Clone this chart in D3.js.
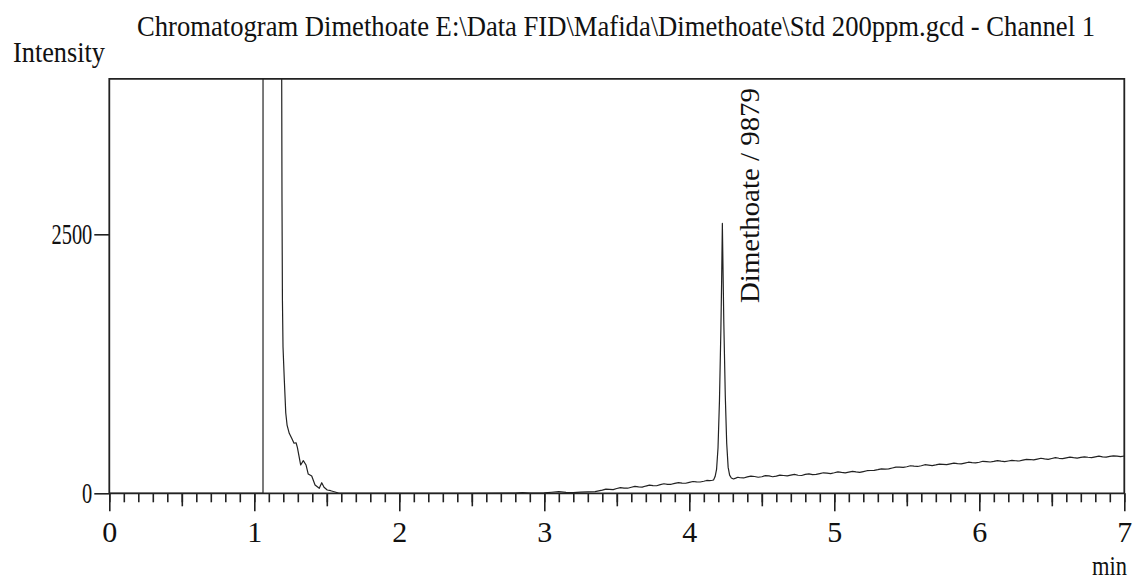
<!DOCTYPE html>
<html><head><meta charset="utf-8">
<script src="https://cdn.jsdelivr.net/npm/d3@7"></script>
<style>
body{margin:0;background:#fff}
text{font-family:"Liberation Serif","Times New Roman",serif;fill:#111}
</style>
</head><body>
<svg id="c" width="1135" height="582"></svg>
<script>
// ---------- data ----------
// solvent front (off-scale) and its tail
const solventTimes = [0.00,1.000,1.055,1.060,1.062,1.185,1.189,1.191,1.194,1.198,1.207,1.217,1.226,1.241,1.258,1.274,1.288,1.297,1.320,1.338,1.357,1.372,1.396,1.419,1.448,1.465,1.481,1.503,1.527,1.557,1.580,1.600];
const solventValues = [0,0,0,0,40000,40000,4000,2831,1866,1413,1094,775,659,579,531,483,488,444,273,315,273,186,167,80,48,102,58,32,25,13,3,0];
// baseline drift
const baseTimes = [1.70,2.00,2.50,2.80,2.85,2.90,3.00,3.05,3.10,3.15,3.20,3.25,3.30,3.35,
  3.40,3.45,3.50,3.55,3.60,3.65,3.70,3.75,3.80,3.85,3.90,3.95,4.00,4.05,4.10,4.14,4.16,4.168,
  4.29,4.32,4.35,4.40,4.45,4.50,4.55,4.60,4.65,4.70,4.75,4.80,4.85,4.90,4.95,5.00,5.05,5.10,5.15,5.20,5.25,5.30,5.35,5.40,5.45,5.50,5.55,5.60,5.65,5.70,5.75,5.80,5.85,5.90,5.95,6.00,6.05,6.10,6.15,6.20,6.25,6.30,6.35,6.40,6.45,6.50,6.55,6.60,6.65,6.70,6.75,6.80,6.85,6.90,6.95,7.00];
const baseValues = [0,0,0,2,6,3,4,10,16,8,6,12,14,16,
  30,38,46,50,58,62,70,74,84,86,96,98,106,110,116,122,126,130,
  148,146,150,158,162,160,168,166,172,176,174,182,180,190,194,198,202,205,206,210,220,228,234,244,252,256,262,266,272,274,280,284,286,292,296,300,306,308,310,312,314,320,326,330,332,336,338,342,344,346,348,352,352,356,358,360];
// detector noise points read between the drift points
const noiseTimes = [3.425,3.475,3.525,3.575,3.625,3.675,3.725,3.775,3.825,3.875,3.925,3.975,4.025,4.075,4.12,
  4.305,4.335,4.375,4.425,4.475,4.525,4.575,4.625,4.675,4.725,4.775,4.825,4.875,4.925,4.975,5.025,5.075,5.125,5.175,5.225,5.275,5.325,5.375,5.425,5.475,5.525,5.575,5.625,5.675,5.725,5.775,5.825,5.875,5.925,5.975,6.025,6.075,6.125,6.175,6.225,6.275,6.325,6.375,6.425,6.475,6.525,6.575,6.625,6.675,6.725,6.775,6.825,6.875,6.925,6.975];
const noiseValues = [40,36,55,49,67,60,79,73,92,87,103,97,114,109,124,
  138,155,148,166,155,170,160,175,168,182,172,188,182,198,190,207,198,212,202,218,222,236,235,252,250,266,259,276,268,282,276,292,284,300,293,309,302,316,306,318,312,328,322,338,328,344,335,349,340,352,345,358,349,362,354];
// Dimethoate peak
const peakTimes = [4.178,4.188,4.198,4.208,4.218,4.223,4.228,4.233,4.238,4.248,4.258,4.268,4.278];
const peakValues = [162,230,438,892,1595,2050,2605,2120,1650,950,480,250,175];

const xTickValues = [0,1,2,3,4,5,6,7];
const yTickValues = [0,2500];
const titleText = "Chromatogram Dimethoate E:\\Data FID\\Mafida\\Dimethoate\\Std 200ppm.gcd - Channel 1";
const yLabel = "Intensity";
const xLabel = "min";
const peakLabel = "Dimethoate / 9879";
const peakTime = 4.228;

// ---------- build trace ----------
const zip = (a,b)=>a.map((t,i)=>[t,b[i]]);
const pts = [].concat(zip(solventTimes,solventValues), zip(baseTimes,baseValues),
                      zip(noiseTimes,noiseValues), zip(peakTimes,peakValues))
  .sort((p,q)=>p[0]-q[0]);

// ---------- layout ----------
const svg = d3.select("#c");
const x = d3.scaleLinear().domain([0,7]).range([109.3,1124.3]);
const y = d3.scaleLinear().domain([0,2500]).range([493.3,234.3]);
const yTop = y(4000);

svg.append("defs").append("clipPath").attr("id","clip")
  .append("rect").attr("x",x(0)).attr("y",yTop).attr("width",x(7)-x(0)).attr("height",y(0)-yTop);

svg.append("path").datum(pts)
  .attr("clip-path","url(#clip)")
  .attr("fill","none").attr("stroke","#222").attr("stroke-width",1.2)
  .attr("stroke-linejoin","round")
  .attr("d", d3.line().x(d=>x(d[0])).y(d=>y(d[1])));

// x axis: minor, mid, major ticks
const minor = d3.range(0,71).map(i=>i/10);
const mid = d3.range(0,7).map(i=>i+0.5);
function styleAxis(g){ g.select(".domain").remove(); g.selectAll("line").attr("stroke","#222").attr("stroke-width",1.6); }
svg.append("g").attr("transform",`translate(0,${y(0)})`)
  .call(d3.axisBottom(x).tickValues(minor).tickSize(9).tickFormat(""))
  .call(styleAxis);
svg.append("g").attr("transform",`translate(0,${y(0)})`)
  .call(d3.axisBottom(x).tickValues(mid).tickSize(13).tickFormat(""))
  .call(styleAxis);
const xa = svg.append("g").attr("transform",`translate(0,${y(0)})`)
  .call(d3.axisBottom(x).tickValues(xTickValues).tickSize(18).tickPadding(9).tickFormat(d3.format("d")))
  .call(styleAxis);
xa.selectAll("text").attr("font-size",30).attr("font-family","Liberation Serif").attr("fill","#111");

// y axis
const ya = svg.append("g").attr("transform",`translate(${x(0)},0)`)
  .call(d3.axisLeft(y).tickValues(yTickValues).tickSize(15).tickPadding(2).tickFormat(d3.format("d")))
  .call(styleAxis);
ya.selectAll("text").attr("font-size",30).attr("font-family","Liberation Serif").attr("fill","#111")
  .attr("textLength", d => String(d).length*10.2).attr("lengthAdjust","spacingAndGlyphs");

// frame
svg.append("path")
  .attr("fill","none").attr("stroke","#222").attr("stroke-width",1.8)
  .attr("d", `M${x(0)},${y(0)}V${yTop}H${x(7)}V${y(0)}`);
svg.append("line").attr("x1",x(0)).attr("x2",x(7)).attr("y1",y(0)).attr("y2",y(0))
  .attr("stroke","#222").attr("stroke-width",1.8);

// texts
svg.append("text").attr("transform","translate(137,36) scale(1,1.1)").attr("font-size",27)
  .attr("textLength",958).attr("lengthAdjust","spacingAndGlyphs").text(titleText);
svg.append("text").attr("x",13).attr("y",62).attr("font-size",29)
  .attr("textLength",92).attr("lengthAdjust","spacingAndGlyphs").text(yLabel);
svg.append("text").attr("x",1092).attr("y",575).attr("font-size",27)
  .attr("textLength",35).attr("lengthAdjust","spacingAndGlyphs").text(xLabel);
svg.append("text").attr("transform",`translate(${x(peakTime)+37},303) rotate(-90)`)
  .attr("font-size",27).attr("textLength",215).attr("lengthAdjust","spacingAndGlyphs").text(peakLabel);
</script>
</body></html>
